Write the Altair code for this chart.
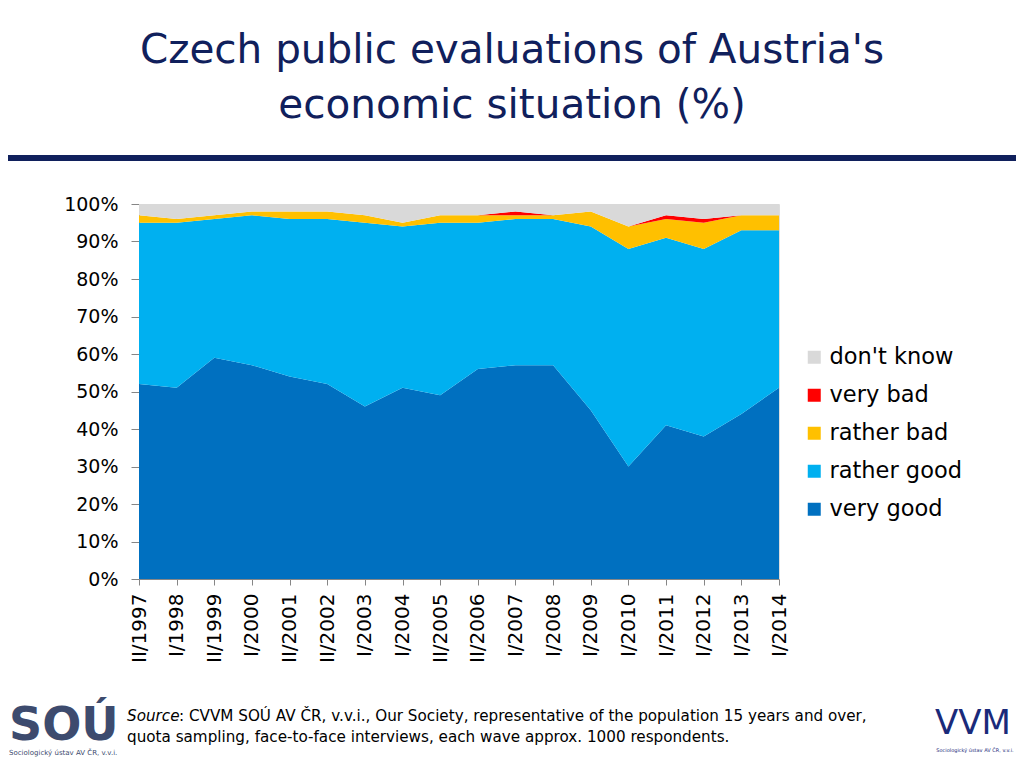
import altair as alt
import pandas as pd

waves = ["II/1997", "I/1998", "II/1999", "I/2000", "II/2001", "II/2002", "I/2003",
         "I/2004", "II/2005", "II/2006", "I/2007", "I/2008", "I/2009", "I/2010",
         "I/2011", "I/2012", "I/2013", "I/2014"]
very_good   = [52, 51, 59, 57, 54, 52, 46, 51, 49, 56, 57, 57, 45, 30, 41, 38, 44, 51]
rather_good = [43, 44, 37, 40, 42, 44, 49, 43, 46, 39, 39, 39, 49, 58, 50, 50, 49, 42]
rather_bad  = [2, 1, 1, 1, 2, 2, 2, 1, 2, 2, 1, 1, 4, 6, 5, 7, 4, 4]
very_bad    = [0, 0, 0, 0, 0, 0, 0, 0, 0, 0, 1, 0, 0, 0, 1, 1, 0, 0]
dont_know   = [100 - a - b - c - d for a, b, c, d in zip(very_good, rather_good, rather_bad, very_bad)]

series_names = ["very good", "rather good", "rather bad", "very bad", "don't know"]
series_vals = [very_good, rather_good, rather_bad, very_bad, dont_know]
colors = ["#0070C0", "#00B0F0", "#FFC000", "#FF0000", "#D9D9D9"]

rows = []
for si, (name, vals) in enumerate(zip(series_names, series_vals)):
    for wi, (w, v) in enumerate(zip(waves, vals)):
        rows.append({"wave": w, "wi": wi, "series": name, "order": si, "value": v / 100})
df = pd.DataFrame(rows)

FONT = "DejaVu Sans"
NAVY = "#10205C"

area = alt.Chart(df).mark_area(opacity=1).encode(
    x=alt.X("wave:O", sort=waves, scale=alt.Scale(padding=0),
            axis=alt.Axis(title=None, labelAngle=-90, labelFontSize=20, labelFont=FONT,
                          labelColor="#000000", tickColor="#868686", domainColor="#868686",
                          tickSize=6, labelPadding=8)),
    y=alt.Y("value:Q", stack="zero", scale=alt.Scale(domain=[0, 1]),
            axis=alt.Axis(title=None, format=".0%", values=[i / 10 for i in range(11)],
                          grid=False, labelFontSize=19, labelFont=FONT, labelColor="#000000",
                          tickColor="#868686", domainColor="#868686", tickSize=8,
                          labelPadding=13)),
    color=alt.Color("series:N",
                    scale=alt.Scale(domain=series_names[::-1], range=colors[::-1]),
                    legend=alt.Legend(title=None, orient="none", legendX=664, legendY=142,
                                      symbolType="square", symbolSize=169, symbolStrokeWidth=0,
                                      labelFontSize=22.5, labelFont=FONT, labelColor="#000000",
                                      rowPadding=15, padding=0, labelOffset=4)),
    order=alt.Order("order:Q", sort="ascending"),
)

title_df = pd.DataFrame({"t": ["Czech public evaluations of Austria's", "economic situation (%)"],
                         "yy": [-153, -98]})
title = alt.Chart(title_df).mark_text(fontSize=40.5, font=FONT, color=NAVY, align="center",
                                      baseline="middle").encode(
    text="t:N", x=alt.value(373), y=alt.Y("yy:Q", scale=None))

bar = alt.Chart(pd.DataFrame({"a": [0]})).mark_rule(color=NAVY, strokeWidth=6).encode(
    x=alt.value(-147), x2=alt.value(885), y=alt.value(-46))

SRC_SIZE = 15.2
src1 = alt.Chart(pd.DataFrame({"t": ["Source"]})).mark_text(
    fontSize=SRC_SIZE, font=FONT, fontStyle="italic", color="#000000", align="left",
    baseline="middle").encode(text="t:N", x=alt.value(-12), y=alt.value(512))
src2 = alt.Chart(pd.DataFrame({"t": [": CVVM SOÚ AV ČR, v.v.i., Our Society, representative of the population 15 years and over,"]})).mark_text(
    fontSize=SRC_SIZE, font=FONT, color="#000000", align="left",
    baseline="middle").encode(text="t:N", x=alt.value(40), y=alt.value(512))
src3 = alt.Chart(pd.DataFrame({"t": ["quota sampling, face-to-face interviews, each wave approx. 1000 respondents."]})).mark_text(
    fontSize=SRC_SIZE, font=FONT, color="#000000", align="left",
    baseline="middle").encode(text="t:N", x=alt.value(-12), y=alt.value(533))

logo1 = alt.Chart(pd.DataFrame({"t": ["SOÚ"]})).mark_text(
    fontSize=46, font=FONT, fontWeight="bold", color="#3D4B6E", align="left",
    baseline="middle").encode(text="t:N", x=alt.value(-130), y=alt.value(522))
logo1b = alt.Chart(pd.DataFrame({"t": ["Sociologický ústav AV ČR, v.v.i."]})).mark_text(
    fontSize=7, font=FONT, color="#3D4B6E", align="left",
    baseline="middle").encode(text="t:N", x=alt.value(-130), y=alt.value(549))
logo2 = alt.Chart(pd.DataFrame({"t": ["VVM"]})).mark_text(
    fontSize=34, font=FONT, color="#1A2A7A", align="center",
    baseline="middle").encode(text="t:N", x=alt.value(834), y=alt.value(520))
logo2b = alt.Chart(pd.DataFrame({"t": ["Sociologický ústav AV ČR, v.v.i."]})).mark_text(
    fontSize=5, font=FONT, color="#1A2A7A", align="center",
    baseline="middle").encode(text="t:N", x=alt.value(836), y=alt.value(546))

chart = alt.layer(area, title, bar, src1, src2, src3, logo1, logo1b, logo2, logo2b).properties(
    width=640, height=375,
    autosize=alt.AutoSizeParams(type="none"),
    padding={"left": 131, "top": 196, "right": 237, "bottom": 181},
).configure_view(strokeWidth=0).configure(background="#FFFFFF")

chart.save("out.html", embed_options={"renderer": "svg", "actions": False})
